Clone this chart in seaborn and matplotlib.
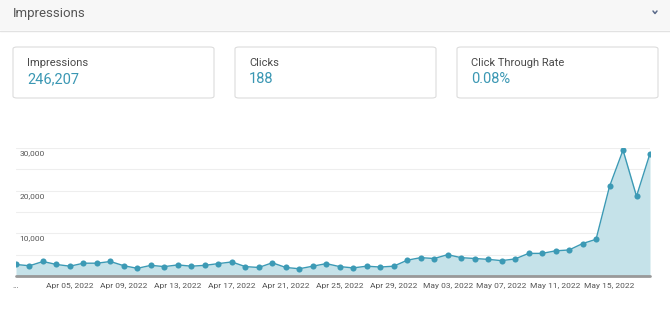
import matplotlib
matplotlib.use("Agg")
import matplotlib.pyplot as plt
import matplotlib.transforms as mtrans
from matplotlib.patches import FancyBboxPatch, Rectangle
import seaborn as sns
import pandas as pd

# ---- data ----
start_date = "2022-04-01"
impressions = [2700, 2400, 3400, 2700, 2300, 3000, 3000, 3400, 2400, 1800,
               2500, 2200, 2600, 2300, 2500, 2900, 3300, 2200, 2000, 3100,
               2000, 1700, 2300, 2900, 2200, 1900, 2300, 2100, 2300, 3700,
               4300, 4100, 5000, 4300, 4100, 3900, 3600, 4000, 5300, 5300,
               5900, 6100, 7600, 8600, 21000, 29500, 18700, 28700]
dates = pd.date_range(start_date, periods=len(impressions), freq="D")
ytick_values = [10000, 20000, 30000]
ytick_labels = ["10,000", "20,000", "30,000"]
ygrid_values = [5000, 10000, 15000, 20000, 25000, 30000]
xtick_dates = ["2022-04-01", "2022-04-05", "2022-04-09", "2022-04-13", "2022-04-17",
               "2022-04-21", "2022-04-25", "2022-04-29", "2022-05-03", "2022-05-07",
               "2022-05-11", "2022-05-15"]
xtick_labels = ["...", "Apr 05, 2022", "Apr 09, 2022", "Apr 13, 2022", "Apr 17, 2022",
                "Apr 21, 2022", "Apr 25, 2022", "Apr 29, 2022", "May 03, 2022",
                "May 07, 2022", "May 11, 2022", "May 15, 2022"]
header_title = "Impressions"
card_labels = ["Impressions", "Clicks", "Click Through Rate"]
card_values = ["246,207", "188", "0.08%"]

df = pd.DataFrame({"date": dates, "impressions": impressions})

sns.set_theme(style="white")
plt.rcParams["font.family"] = ["Roboto", "DejaVu Sans"]

W, H = 670, 324
fig = plt.figure(figsize=(W / 100, H / 100), dpi=100)
fig.patch.set_facecolor("white")

def fx(px):
    return px / W

def fy(py):
    return 1 - py / H

# header band
fig.patches.append(Rectangle((0, fy(30)), 1, 30 / H, transform=fig.transFigure,
                             facecolor="#f7f7f7", edgecolor="none", zorder=0))
fig.lines.append(plt.Line2D([0, 1], [fy(30.5), fy(30.5)], transform=fig.transFigure,
                            color="#e2e2e2", lw=1))
fig.text(fx(13), fy(13), header_title, fontsize=9.5, color="#555555", va="center", ha="left")
# chevron
fig.lines.append(plt.Line2D([fx(653), fx(655), fx(657)], [fy(11), fy(13.5), fy(11)],
                            transform=fig.transFigure, color="#5a6a8a", lw=1.1))

# cards
card_x = [13, 235, 457]
for x0, lab, val in zip(card_x, card_labels, card_values):
    fig.patches.append(FancyBboxPatch((fx(x0), fy(98)), fx(201), 51 / H,
                                      boxstyle="round,pad=0,rounding_size=0.006",
                                      transform=fig.transFigure, facecolor="white",
                                      edgecolor="#dcdcdc", lw=0.8))
    fig.text(fx(x0 + 14), fy(63), lab, fontsize=8, color="#4a4a4a", va="center", ha="left")
    fig.text(fx(x0 + 14), fy(79), val, fontsize=10.5, color="#3a97b3", va="center", ha="left")

# chart
ax = fig.add_axes([fx(16), fy(276), fx(634), (276 - 148) / H])
color_line = "#3c9ab5"
ax.fill_between(df["date"], df["impressions"], 0, color="#c5e2e9", lw=0, zorder=1)
sns.lineplot(data=df, x="date", y="impressions", ax=ax, color=color_line, lw=1,
             marker="o", markersize=4.4, markeredgewidth=0, zorder=3)

ax.set_xlim(dates[0], dates[-1])
ax.set_ylim(0, 30000)
for gv in ygrid_values:
    ax.axhline(gv, color="#eeeeee", lw=0.8, zorder=0)
ax.axhline(0, color="#999999", lw=2, zorder=4, clip_on=False)

ax.set_yticks(ytick_values)
ax.set_yticklabels(ytick_labels)
ax.tick_params(axis="y", length=0, pad=-1, labelsize=6, labelcolor="#555555")
offset = mtrans.ScaledTranslation(2 / 100, -2 / 100, fig.dpi_scale_trans)
for lbl in ax.get_yticklabels():
    lbl.set_horizontalalignment("left")
    lbl.set_verticalalignment("top")
    lbl.set_transform(lbl.get_transform() + offset)

ax.set_xticks(pd.to_datetime(xtick_dates))
ax.set_xticklabels(xtick_labels)
ax.tick_params(axis="x", length=0, pad=5, labelsize=6, labelcolor="#555555")

ax.set_xlabel("")
ax.set_ylabel("")
for s in ax.spines.values():
    s.set_visible(False)
ax.patch.set_alpha(0)

fig.savefig("out.png", dpi=100)
